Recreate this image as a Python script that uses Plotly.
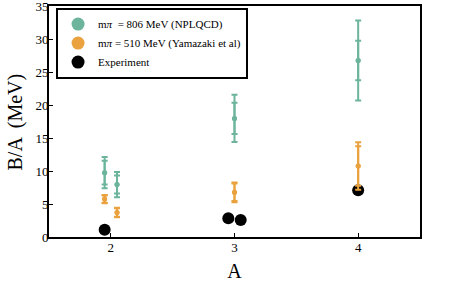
import plotly.graph_objects as go

# NPLQCD, m_pi = 806 MeV
x_npl = [1.95, 2.05, 3.0, 4.0]
b_npl = [9.75, 7.95, 17.97, 26.75]
stat_npl = [1.8, 1.35, 2.37, 3.0]
tot_npl = [2.38, 1.91, 3.57, 6.05]

# Yamazaki et al, m_pi = 510 MeV
x_yam = [1.95, 2.05, 3.0, 4.0]
b_yam = [5.75, 3.7, 6.77, 10.75]
stat_yam = [0.55, 0.65, 1.33, 3.0]
tot_yam = [0.63, 0.72, 1.49, 3.6]

# Experiment
x_exp = [1.95, 2.95, 3.05, 4.0]
b_exp = [1.11, 2.83, 2.57, 7.07]

green = "#6cb59c"
orange = "#e9a23e"
font = "Liberation Serif"

fig = go.Figure()

fig.add_trace(go.Scatter(x=x_exp, y=b_exp, mode="markers",
                         marker=dict(color="black", size=12),
                         showlegend=False))

for xs, ys, st, tt, col in [(x_npl, b_npl, stat_npl, tot_npl, green),
                            (x_yam, b_yam, stat_yam, tot_yam, orange)]:
    fig.add_trace(go.Scatter(x=xs, y=ys, mode="markers",
                             marker=dict(color=col, size=5),
                             error_y=dict(type="data", array=tt, color=col,
                                          thickness=2, width=3),
                             showlegend=False))
    fig.add_trace(go.Scatter(x=xs, y=ys, mode="markers",
                             marker=dict(color=col, size=5),
                             error_y=dict(type="data", array=st, color=col,
                                          thickness=2, width=3),
                             showlegend=False))

for name, col in [("m<i>π</i>  = 806 MeV (NPLQCD)", green),
                  ("m<i>π</i> = 510 MeV (Yamazaki et al)", orange),
                  ("Experiment", "black")]:
    fig.add_trace(go.Scatter(x=[None], y=[None], mode="markers", name=name,
                             marker=dict(color=col, size=13)))

fig.update_layout(
    width=457, height=284,
    margin=dict(l=49, r=37, t=6, b=47, autoexpand=False),
    plot_bgcolor="white", paper_bgcolor="white",
    font=dict(family=font, color="black"),
    legend=dict(x=0.019, y=0.993, xanchor="left", yanchor="top",
                bordercolor="black", borderwidth=2, bgcolor="white",
                font=dict(size=11, family=font), tracegroupgap=0),
    annotations=[dict(text="B/A  (MeV)", textangle=-90, showarrow=False,
                      xref="paper", yref="paper", x=-0.089, y=0.5,
                      xanchor="center", yanchor="middle",
                      font=dict(size=20, family=font))],
)
fig.update_xaxes(range=[1.5, 4.5], tickvals=[2, 3, 4], ticks="inside",
                 ticklen=4, tickwidth=1, tickcolor="black",
                 showline=True, linecolor="black", linewidth=2, mirror=True,
                 showgrid=False, zeroline=False, automargin=False,
                 ticklabelstandoff=-3, ticklabeloverflow="allow",
                 tickfont=dict(size=13, family=font),
                 title=dict(text="A", font=dict(size=20, family=font), standoff=10))
fig.update_yaxes(range=[0, 35], tickvals=[0, 5, 10, 15, 20, 25, 30, 35],
                 ticks="inside", ticklen=4, tickwidth=1, tickcolor="black",
                 showline=True, linecolor="black", linewidth=2, mirror=True,
                 showgrid=False, zeroline=False, automargin=False,
                 ticklabelstandoff=-4, ticklabeloverflow="allow",
                 tickfont=dict(size=13, family=font))

fig.write_html("out.html", config={"displayModeBar": False},
               post_script="document.body.style.margin='0';")
